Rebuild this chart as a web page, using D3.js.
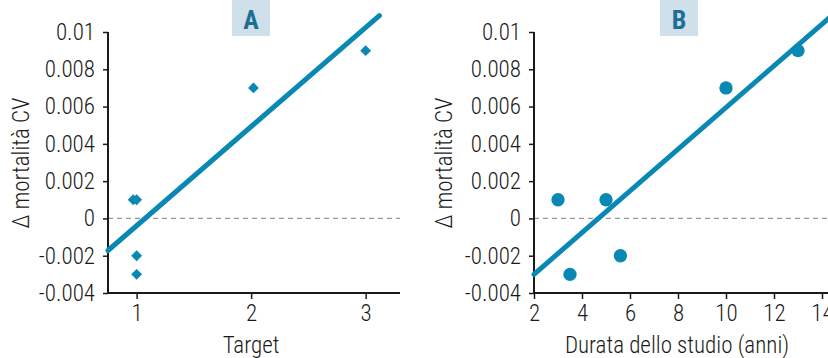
<!DOCTYPE html>
<html><head><meta charset="utf-8">
<script src="https://cdn.jsdelivr.net/npm/d3@7"></script>
<style>
html,body{margin:0;padding:0;background:#fff;}
svg text{font-family:"Roboto Condensed","Liberation Sans Narrow","DejaVu Sans Condensed","Arial Narrow",sans-serif;font-stretch:condensed;font-weight:300;}
</style></head><body>
<svg id="c" width="828" height="358"></svg>
<script>
// Data
const targetX = [0.97, 1.0, 1.0, 1.0, 2.02, 3.0];
const targetY = [0.001, 0.001, -0.002, -0.003, 0.007, 0.009];
const durataX = [3, 3.5, 5, 5.6, 10, 13];
const durataY = [0.001, -0.003, 0.001, -0.002, 0.007, 0.009];
const fitAX = [0.75, 3.12];
const fitAY = [-0.00172, 0.01088];
const fitBX = [2, 14.3];
const fitBY = [-0.0030, 0.01076];
const yTicks = [-0.004, -0.002, 0, 0.002, 0.004, 0.006, 0.008, 0.01];
const xTicksA = [1, 2, 3];
const xTicksB = [2, 4, 6, 8, 10, 12, 14];
const panelLabels = ["A", "B"];
const xTitles = ["Target", "Durata dello studio (anni)"];
const yTitle = "\u0394 mortalit\u00e0 CV";

const svg = d3.select("#c");
const blue = "#0a88b4";
const ink = "#1a1a1a";
const yFmt = d => d === 0 ? "0" : String(+d.toFixed(3));

function panel(cfg) {
  const g = svg.append("g");
  const x = d3.scaleLinear().domain(cfg.xDomain).range(cfg.xRange);
  const y = d3.scaleLinear().domain([-0.004, 0.01]).range([293, 32]);

  // title box
  g.append("rect").attr("x", cfg.boxX).attr("y", 0).attr("width", 38).attr("height", 36).attr("fill", "#cfe0ea");
  g.append("text").attr("x", cfg.boxX + 19).attr("y", 28.5).attr("text-anchor", "middle")
    .attr("font-size", 26).style("font-weight", "bold").attr("fill", "#1d6f98").text(cfg.label);

  // zero dashed line
  g.append("line").attr("x1", cfg.xRange[0]).attr("x2", cfg.zeroEnd).attr("y1", y(0)).attr("y2", y(0))
    .attr("stroke", "#999").attr("stroke-width", 1.2).attr("stroke-dasharray", "5,4");

  // y axis
  const ya = g.append("g").attr("transform", `translate(${cfg.xRange[0]},0)`)
    .call(d3.axisLeft(y).tickValues(yTicks).tickFormat(yFmt).tickSize(5).tickPadding(8));
  ya.select(".domain").attr("stroke", ink).attr("stroke-width", 2).attr("d", `M-0,32V293`);
  ya.selectAll(".tick line").attr("stroke", ink).attr("stroke-width", 1.5);
  ya.selectAll(".tick text").attr("font-size", 23).attr("fill", ink);

  // x axis
  const xa = g.append("g").attr("transform", `translate(0,293)`)
    .call(d3.axisBottom(x).tickValues(cfg.xTicks).tickFormat(d3.format("d")).tickSize(6).tickPadding(6));
  xa.select(".domain").attr("stroke", ink).attr("stroke-width", 2)
    .attr("d", `M${cfg.xRange[0]},0H${cfg.xRange[1]}`);
  xa.selectAll(".tick line").attr("stroke", ink).attr("stroke-width", 1.5);
  xa.selectAll(".tick text").attr("font-size", 23).attr("fill", ink);

  // titles
  g.append("text").attr("transform", `translate(${cfg.yTitleX},163) rotate(-90)`).attr("text-anchor", "middle")
    .attr("font-size", 23).attr("fill", ink).text(yTitle);
  g.append("text").attr("x", cfg.xTitleX).attr("y", 353).attr("text-anchor", "middle")
    .attr("font-size", 23).attr("fill", ink).text(cfg.xTitle);

  // fit line
  g.append("line").attr("x1", x(cfg.fitX[0])).attr("y1", y(cfg.fitY[0]))
    .attr("x2", x(cfg.fitX[1])).attr("y2", y(cfg.fitY[1]))
    .attr("stroke", blue).attr("stroke-width", 5).attr("stroke-linecap", "round");

  // points
  const pts = cfg.px.map((v, i) => [v, cfg.py[i]]);
  g.selectAll("path.pt").data(pts).join("path").attr("class", "pt")
    .attr("transform", d => `translate(${x(d[0])},${y(d[1])})`)
    .attr("d", d3.symbol().type(cfg.symbol).size(cfg.symSize)())
    .attr("fill", blue);
  return g;
}

panel({xDomain: [0.75, 3.3], xRange: [108, 400], zeroEnd: 400, xTicks: xTicksA, boxX: 232,
  label: panelLabels[0], xTitle: xTitles[0], yTitleX: 29, xTitleX: 251,
  fitX: fitAX, fitY: fitAY, px: targetX, py: targetY, symbol: d3.symbolDiamond2, symSize: 75});
panel({xDomain: [2, 14.5], xRange: [534, 834], zeroEnd: 834, xTicks: xTicksB, boxX: 660,
  label: panelLabels[1], xTitle: xTitles[1], yTitleX: 452, xTitleX: 677,
  fitX: fitBX, fitY: fitBY, px: durataX, py: durataY, symbol: d3.symbolCircle, symSize: 140});
</script>
</body></html>
